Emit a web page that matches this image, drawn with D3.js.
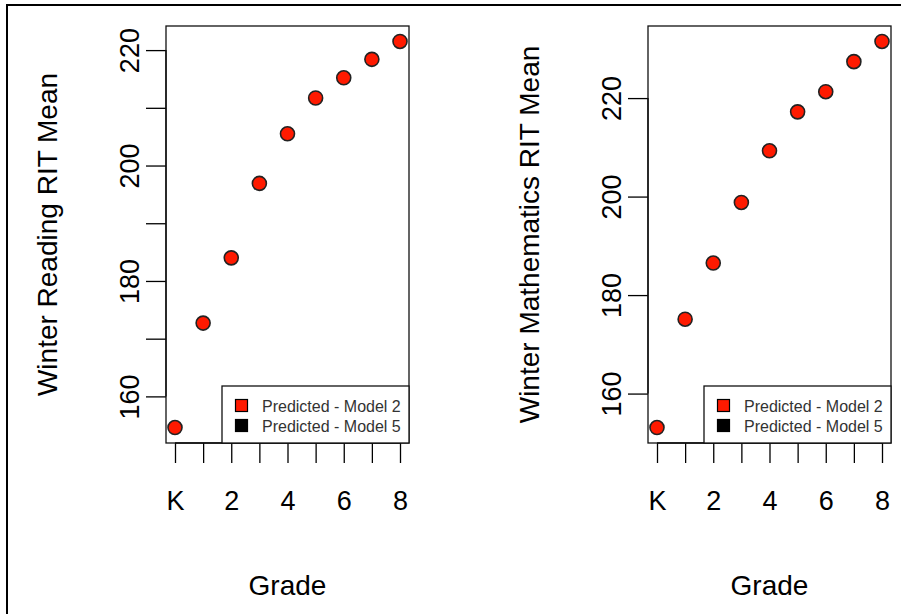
<!DOCTYPE html>
<html>
<head>
<meta charset="utf-8">
<script src="https://cdn.jsdelivr.net/npm/d3@7"></script>
<style>
  body { margin: 0; background: #fff; }
  text { font-family: "Liberation Sans", Arial, sans-serif; }
</style>
</head>
<body>
<div id="chart"></div>
<script>
// --------------------------------------
//  Data
// --------------------------------------

const grades = [0, 1, 2, 3, 4, 5, 6, 7, 8];
const gradeLabels = ["K", "1", "2", "3", "4", "5", "6", "7", "8"];
const shownGradeLabels = ["K", "2", "4", "6", "8"];
const readingMeans = [154.6, 172.7, 184.0, 196.9, 205.5, 211.7, 215.2, 218.4, 221.5];
const mathMeans = [153.1, 175.1, 186.5, 198.8, 209.3, 217.2, 221.3, 227.4, 231.5];
const readingTicks = [160, 170, 180, 190, 200, 210, 220];
const readingTickLabels = [160, 180, 200, 220];
const mathTicks = [160, 180, 200, 220];
const legendLabels = ["Predicted - Model 2", "Predicted - Model 5"];
const legendColors = ["#ff1a00", "#000000"];

// --------------------------------------
//  Canvas
// --------------------------------------

const width = 901;
const height = 614;

const svg = d3.select("#chart")
  .append("svg")
    .attr("width", width)
    .attr("height", height);

// outer frame (cropped on right and bottom)
svg.append("rect")
    .attr("x", 7)
    .attr("y", 5)
    .attr("width", width + 20)
    .attr("height", height + 20)
    .attr("fill", "none")
    .attr("stroke", "#000")
    .attr("stroke-width", 2);

// --------------------------------------
//  One panel
// --------------------------------------

function drawPanel(left, values, ticks, tickLabels, title) {
  const box = {left: left, right: left + 243, top: 26, bottom: 443};

  // R style 4% padding of the data range
  const ext = d3.extent(values);
  const pad = (ext[1] - ext[0]) * 0.04;
  const y = d3.scaleLinear()
      .domain([ext[0] - pad, ext[1] + pad])
      .range([box.bottom, box.top]);

  const x = d3.scaleLinear()
      .domain([0 - 8 * 0.04, 8 + 8 * 0.04])
      .range([box.left, box.right]);

  const g = svg.append("g");

  // y axis
  const yAxis = g.append("g")
      .attr("transform", `translate(${box.left}, 0)`)
      .call(d3.axisLeft(y)
          .tickValues(ticks)
          .tickSize(20)
          .tickFormat(d => tickLabels.includes(d) ? d : ""));
  yAxis.select(".domain")
      .attr("d", `M0,${y(ticks[0])}V${y(ticks[ticks.length - 1])}`)
      .attr("stroke-width", 1.3);
  yAxis.selectAll(".tick line").attr("stroke-width", 1.3);
  yAxis.selectAll(".tick text")
      .attr("font-family", "Liberation Sans, Arial, sans-serif")
      .attr("font-size", 27)
      .attr("fill", "#000")
      .attr("text-anchor", "middle")
      .attr("transform", "translate(-36, 0) rotate(-90)")
      .attr("x", 0)
      .attr("dy", "0.35em");

  // x axis
  const xAxis = g.append("g")
      .attr("transform", `translate(0, ${box.bottom})`)
      .call(d3.axisBottom(x)
          .tickValues(grades)
          .tickSize(20)
          .tickPadding(0)
          .tickFormat((d, i) => shownGradeLabels.includes(gradeLabels[i]) ? gradeLabels[i] : ""));
  xAxis.select(".domain")
      .attr("d", `M${x(0)},0H${x(8)}`)
      .attr("stroke-width", 1.3);
  xAxis.selectAll(".tick line").attr("stroke-width", 1.3);
  xAxis.selectAll(".tick text")
      .attr("font-family", "Liberation Sans, Arial, sans-serif")
      .attr("font-size", 27)
      .attr("fill", "#000")
      .attr("y", 67)
      .attr("dy", "0");

  // plot box
  g.append("rect")
      .attr("x", box.left)
      .attr("y", box.top)
      .attr("width", box.right - box.left)
      .attr("height", box.bottom - box.top)
      .attr("fill", "none")
      .attr("stroke", "#111")
      .attr("stroke-width", 1.3);

  // titles
  g.append("text")
      .attr("x", (box.left + box.right) / 2)
      .attr("y", 595)
      .attr("text-anchor", "middle")
      .attr("font-size", 28)
      .text("Grade");

  g.append("text")
      .attr("transform", `translate(${box.left - 109}, ${(box.top + box.bottom) / 2}) rotate(-90)`)
      .attr("text-anchor", "middle")
      .attr("font-size", 28)
      .text(title);

  // legend
  const lg = g.append("g");
  const lgLeft = box.left + 56;
  lg.append("rect")
      .attr("x", lgLeft)
      .attr("y", 386)
      .attr("width", box.right - lgLeft)
      .attr("height", box.bottom - 386)
      .attr("fill", "#fff")
      .attr("stroke", "#111")
      .attr("stroke-width", 1.3);

  lg.selectAll(".lg-key")
    .data(legendLabels)
    .join("rect")
      .attr("x", lgLeft + 13.5)
      .attr("y", (d, i) => 399.5 + i * 20)
      .attr("width", 12)
      .attr("height", 12)
      .attr("fill", (d, i) => legendColors[i])
      .attr("stroke", "#000")
      .attr("stroke-width", 1.2);

  lg.selectAll(".lg-text")
    .data(legendLabels)
    .join("text")
      .attr("x", lgLeft + 40)
      .attr("y", (d, i) => 406 + i * 20)
      .attr("dy", "0.35em")
      .attr("font-size", 16)
      .attr("fill", "#333")
      .text(d => d);

  // points
  g.append("g")
    .selectAll("circle")
    .data(values)
    .join("circle")
      .attr("cx", (d, i) => x(grades[i]))
      .attr("cy", d => y(d))
      .attr("r", 7)
      .attr("fill", "#ff1a00")
      .attr("stroke", "#222")
      .attr("stroke-width", 1.6);
}

drawPanel(166, readingMeans, readingTicks, readingTickLabels, "Winter Reading RIT Mean");
drawPanel(648, mathMeans, mathTicks, mathTicks, "Winter Mathematics RIT Mean");
</script>
</body>
</html>
